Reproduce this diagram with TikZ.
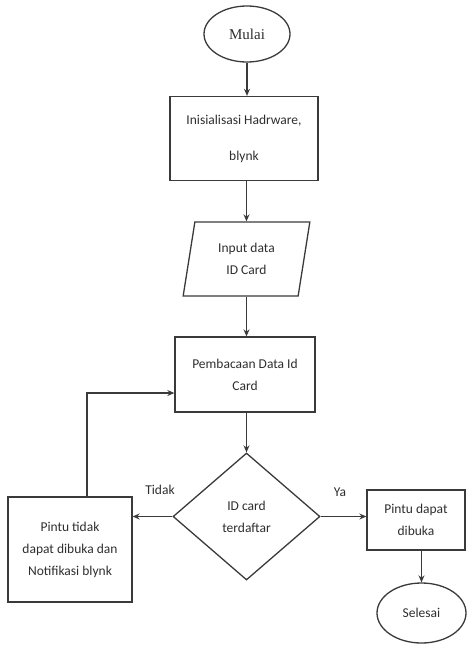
\documentclass[tikz,border=0pt]{standalone}
\usepackage{fontspec}
\setmainfont{Carlito}
\newfontfamily\serifmulai{Liberation Serif}
\usetikzlibrary{shapes.geometric,arrows.meta}
\definecolor{ln}{HTML}{3A3A3A}
\definecolor{tx}{HTML}{2E2E2E}
\tikzset{
  base/.style={draw=ln, line width=1.3pt, text=tx, align=center, inner sep=0pt,
    font=\fontsize{13.5}{22}\selectfont},
  procbox/.style={base, rectangle},
  termin/.style={base, ellipse},
  iobox/.style={base, trapezium, trapezium left angle=78.5, trapezium right angle=101.5,
    trapezium stretches=true},
  decide/.style={base, diamond},
  conn/.style={draw=ln, line width=1.2pt, -{Stealth[length=7pt,width=6pt]}},
  lbl/.style={text=tx, font=\fontsize{13.5}{16}\selectfont, inner sep=0pt}
}
\begin{document}
\begin{tikzpicture}[x=1pt,y=-1pt]
\useasboundingbox (0,0) rectangle (466,645);
\node[termin, minimum width=86pt, minimum height=56pt, font=\serifmulai\fontsize{15}{16}\selectfont] (mulai) at (247,34) {Mulai};
\node[procbox, minimum width=148pt, minimum height=84pt] (init) at (244,138.5) {Inisialisasi Hadrware,\\[14pt] blynk};
\node[iobox, minimum width=127pt, minimum height=74pt] (inp) at (246.5,259) {Input data\\ ID Card};
\node[procbox, minimum width=140pt, minimum height=75pt] (baca) at (245,374.5) {Pembacaan Data Id\\ Card};
\node[decide, minimum width=147pt, minimum height=127pt] (cek) at (246.5,516.5) {ID card\\ terdaftar};
\node[procbox, minimum width=124pt, minimum height=105pt] (tolak) at (70,549.5) {Pintu tidak\\ dapat dibuka dan\\ Notifikasi blynk};
\node[procbox, minimum width=98pt, minimum height=60pt] (buka) at (416,520) {Pintu dapat\\ dibuka};
\node[termin, minimum width=89pt, minimum height=60pt] (selesai) at (421.5,613) {Selesai};
\node[lbl] (tidak) at (160,490) {Tidak};
\node[lbl] (ya) at (340,492) {Ya};
\coordinate (fb) at (87,393);

\draw[conn] (mulai.south) -- (mulai.south |- init.north);
\draw[conn] (init.south -| inp.north) -- (inp.north);
\draw[conn] (inp.south) -- (inp.south |- baca.north);
\draw[conn] (baca.south -| cek.north) -- (cek.north);
\draw[conn] (cek.west) -- (cek.west -| tolak.east);
\draw[conn] (cek.east) -- (cek.east -| buka.west);
\draw[conn] (buka.south -| selesai.north) -- (selesai.north);
\draw[conn] (tolak.north -| fb) -- (fb) -- (fb -| baca.west);
\end{tikzpicture}
\end{document}
